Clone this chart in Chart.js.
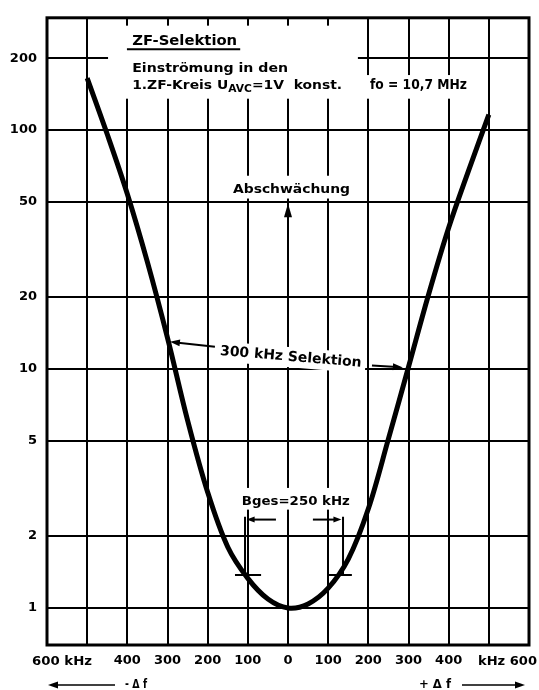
<!DOCTYPE html>
<html><head><meta charset="utf-8">
<script src="https://cdn.jsdelivr.net/npm/chart.js@4.4.1/dist/chart.umd.min.js"></script>
<style>html,body{margin:0;padding:0;background:#fff}#wrap{width:539px;height:690px;position:relative}</style>
</head><body><div id="wrap"><canvas id="c" width="539" height="690"></canvas></div>
<script>
// ---- data ----
const freqKHz     = [-500, -450, -400, -350, -300, -250, -200, -150, -100, -50, 0, 50, 100, 150, 200, 250, 300, 350, 400, 450, 500];
const attenuation = [165, 96, 54, 28, 13.5, 6.1, 3.05, 1.8, 1.33, 1.09, 1.0, 1.04, 1.21, 1.6, 2.6, 5.1, 10.2, 20.5, 39, 68, 116];
const yTickValues = [1, 2, 5, 10, 20, 50, 100, 200];
const xTickValues = [-600, -500, -400, -300, -200, -100, 0, 100, 200, 300, 400, 500, 600];
const xTickLabels = ['600 kHz', '', '400', '300', '200', '100', '0', '100', '200', '300', '400', '', 'kHz 600'];

const FONT = '"DejaVu Sans", "Liberation Sans", sans-serif';
const F = (px) => 'bold ' + px + 'px ' + FONT;

function fitText(ctx, txt, x, y, w, font, align) {
  ctx.font = font;
  const m = ctx.measureText(txt).width;
  const s = w / m;
  ctx.save();
  ctx.translate(x, y);
  ctx.scale(s, 1);
  ctx.textAlign = 'left';
  ctx.fillText(txt, align === 'center' ? -m / 2 : (align === 'right' ? -m : 0), 0);
  ctx.restore();
}
function arrow(ctx, x1, y1, x2, y2, hl, hw) {
  const a = Math.atan2(y2 - y1, x2 - x1);
  ctx.beginPath(); ctx.moveTo(x1, y1); ctx.lineTo(x2 - Math.cos(a) * hl * 0.6, y2 - Math.sin(a) * hl * 0.6); ctx.stroke();
  ctx.beginPath();
  ctx.moveTo(x2, y2);
  ctx.lineTo(x2 - hl * Math.cos(a) + hw * Math.sin(a), y2 - hl * Math.sin(a) - hw * Math.cos(a));
  ctx.lineTo(x2 - hl * Math.cos(a) - hw * Math.sin(a), y2 - hl * Math.sin(a) + hw * Math.cos(a));
  ctx.closePath(); ctx.fill();
}

const deco = {
  id: 'deco',
  beforeDatasetsDraw(chart) {
    const ctx = chart.ctx, xs = chart.scales.x, ys = chart.scales.y;
    const X = v => xs.getPixelForValue(v), Y = v => ys.getPixelForValue(v);
    const box = (x1, y1, x2, y2) => { ctx.fillStyle = '#fff'; ctx.fillRect(X(x1), Y(y1), X(x2) - X(x1), Y(y2) - Y(y1)); };
    ctx.save();
    ctx.textBaseline = 'alphabetic';
    // white text areas
    box(-448, 273.5, 174, 135.3);
    box(174, 169.9, 453, 135.3);
    box(-149, 64.4, 167, 51.7);
    box(-124, 3.18, 164, 2.58);
    ctx.fillStyle = '#000'; ctx.strokeStyle = '#000';
    // header
    fitText(ctx, 'ZF-Selektion', X(-388), Y(226), 105, F(14));
    ctx.lineWidth = 2;
    ctx.beginPath(); ctx.moveTo(X(-401), Y(217.7)); ctx.lineTo(X(-119), Y(217.7)); ctx.stroke();
    fitText(ctx, 'Einströmung in den', X(-388), Y(174.8), 156, F(13));
    // line with subscript
    {
      const x0 = X(-388), y0 = Y(148.7);
      const p1 = '1.ZF-Kreis U', p2 = 'AVC', p3 = '=1V  konst.';
      ctx.font = F(13); const w1 = ctx.measureText(p1).width, w3 = ctx.measureText(p3).width;
      ctx.font = F(10); const w2 = ctx.measureText(p2).width;
      const s = 210 / (w1 + w2 + w3);
      ctx.save(); ctx.translate(x0, y0); ctx.scale(s, 1);
      ctx.font = F(13); ctx.fillText(p1, 0, 0);
      ctx.font = F(10); ctx.fillText(p2, w1, 3);
      ctx.font = F(13); ctx.fillText(p3, w1 + w2, 0);
      ctx.restore();
    }
    fitText(ctx, 'fo = 10,7 MHz', X(204), Y(148.7), 97, F(13.5));
    // Abschwächung + arrow head on the 0 line
    fitText(ctx, 'Abschwächung', X(-137), Y(54.7), 117, F(13));
    ctx.beginPath(); ctx.moveTo(X(0), Y(49.3)); ctx.lineTo(X(0) - 4, Y(43.2)); ctx.lineTo(X(0) + 4, Y(43.2)); ctx.closePath(); ctx.fill();
    // 300 kHz Selektion (slightly rotated)
    {
      const cx = X(7), cy = Y(11.2);
      ctx.save(); ctx.translate(cx, cy); ctx.rotate(4.8 * Math.PI / 180);
      ctx.fillStyle = '#fff'; ctx.fillRect(-75, -10, 150, 20);
      ctx.fillStyle = '#000'; ctx.textBaseline = 'middle';
      fitText(ctx, '300 kHz Selektion', 0, 0, 142, F(14), 'center');
      ctx.restore();
      ctx.lineWidth = 2;
      arrow(ctx, X(-182), Y(12.4), X(-294), Y(13.0), 10, 3.5);
      arrow(ctx, X(209), Y(10.35), X(286), Y(10.16), 10, 3.5);
    }
    // Bges bracket
    fitText(ctx, 'Bges=250 kHz', X(-115), Y(2.70), 108, F(13));
    ctx.lineWidth = 2;
    ctx.beginPath();
    ctx.moveTo(X(-107), Y(2.41)); ctx.lineTo(X(-107), Y(1.363));
    ctx.moveTo(X(137), Y(2.41)); ctx.lineTo(X(137), Y(1.363));
    ctx.moveTo(X(-132), Y(1.375)); ctx.lineTo(X(-67), Y(1.375));
    ctx.moveTo(X(102), Y(1.375)); ctx.lineTo(X(159), Y(1.375));
    ctx.stroke();
    arrow(ctx, X(-30), Y(2.344), X(-103), Y(2.344), 8, 3);
    arrow(ctx, X(62), Y(2.344), X(133), Y(2.344), 8, 3);
    // frame
    ctx.lineWidth = 3;
    ctx.strokeRect(xs.left, ys.top, xs.right - xs.left, ys.bottom - ys.top);
    ctx.restore();
  },
  afterDraw(chart) {
    const ctx = chart.ctx, xs = chart.scales.x;
    ctx.save();
    ctx.fillStyle = '#000'; ctx.strokeStyle = '#000';
    ctx.textBaseline = 'alphabetic';
    fitText(ctx, xTickLabels[0], xs.left - 15, 665, 60, F(13));
    fitText(ctx, xTickLabels[xTickLabels.length - 1], xs.right + 8, 665, 59, F(13), 'right');
    ctx.textBaseline = 'middle';
    const ya = 685;
    ctx.lineWidth = 1.5;
    arrow(ctx, xs.left + 68, ya, xs.left + 1, ya, 10, 3.5);
    fitText(ctx, '- Δ f', xs.left + 78, ya, 22, F(13));
    fitText(ctx, '+ Δ f', xs.right - 110, ya, 32, F(13));
    arrow(ctx, xs.right - 67, ya, xs.right - 4, ya, 10, 3.5);
    ctx.restore();
  }
};

new Chart(document.getElementById('c'), {
  type: 'line',
  data: {
    datasets: [{
      data: freqKHz.map((f, i) => ({ x: f, y: attenuation[i] })),
      borderColor: '#000', borderWidth: 5, pointRadius: 0,
      tension: 0.35, fill: false
    }]
  },
  options: {
    responsive: false, animation: false,
    layout: { padding: { top: 10, right: 10, left: 0, bottom: 0 } },
    plugins: { legend: { display: false }, tooltip: { enabled: false } },
    scales: {
      x: {
        type: 'linear', min: -600, max: 600,
        afterBuildTicks: s => { s.ticks = xTickValues.map(v => ({ value: v })); },
        afterFit: s => { s.height = 45; },
        grid: { color: '#000', lineWidth: 2, drawTicks: false },
        border: { display: false },
        ticks: {
          padding: 8, color: '#000', font: { family: FONT, size: 13, weight: 'bold' },
          autoSkip: false, maxRotation: 0,
          callback: (v) => { const i = xTickValues.indexOf(v); return (i === 0 || i === xTickValues.length - 1) ? '' : xTickLabels[i]; }
        }
      },
      y: {
        type: 'logarithmic', min: 0.7, max: 295,
        afterBuildTicks: s => { s.ticks = yTickValues.map(v => ({ value: v })); },
        afterFit: s => { s.width = 47; },
        grid: { color: '#000', lineWidth: 2, drawTicks: false },
        border: { display: false },
        ticks: { padding: 10, color: '#000', font: { family: FONT, size: 13, weight: 'bold' }, callback: v => String(v) }
      }
    }
  },
  plugins: [deco]
});
</script></body></html>
